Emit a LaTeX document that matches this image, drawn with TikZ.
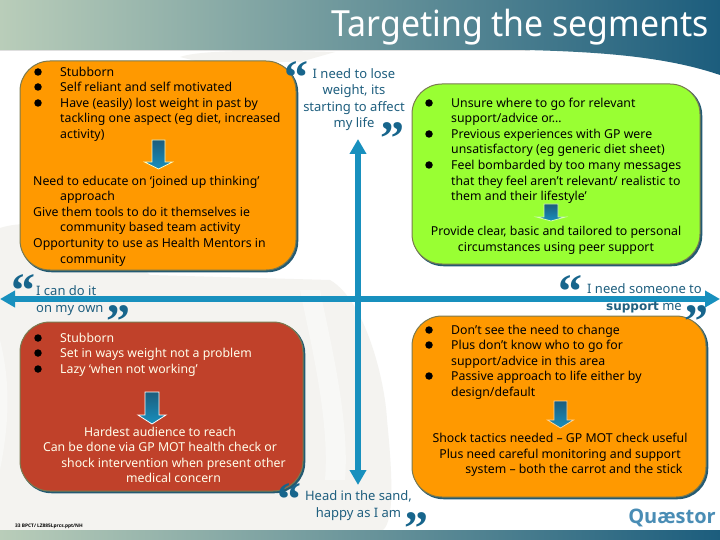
\documentclass[tikz,border=0pt]{standalone}
\usepackage{fontspec}
\setmainfont{Noto Sans}
\newfontfamily\quotefont{Liberation Serif}
\newfontfamily\titlefont{DejaVu Sans}
\newfontfamily\logofont{Open Sans}
\usetikzlibrary{arrows.meta,calc}
\definecolor{axisc}{HTML}{1890BE}
\definecolor{quotec}{HTML}{17658C}
\definecolor{orangec}{HTML}{FF9900}
\definecolor{greenc}{HTML}{99FF33}
\definecolor{redc}{HTML}{C0412A}
\definecolor{shadowc}{HTML}{235A72}
\definecolor{edgec}{HTML}{7A7A50}
\definecolor{saytext}{HTML}{1F5F7F}
\definecolor{hdl}{HTML}{B9CDB9}
\definecolor{hdr}{HTML}{1C5D7D}
\definecolor{blob}{HTML}{F4F3F0}
\definecolor{blobw}{HTML}{F8F8F6}
\definecolor{logoc}{HTML}{4A8DB5}
\tikzset{
 x=1pt,y=-1pt,
 box/.style={rounded corners=30pt,line width=1pt,preaction={draw=shadowc,fill=shadowc,line width=1.5pt,transform canvas={shift={(1.5pt,-1.5pt)}}}},
 body/.style={anchor=north west,inner sep=0pt,align=left,font=\fontsize{12.3}{15.6}\selectfont},
 bodyc/.style={anchor=north,inner sep=0pt,align=center,font=\fontsize{12.3}{15.6}\selectfont},
 say/.style={anchor=north,inner sep=0pt,align=center,text=saytext,font=\fontsize{13}{16.6}\selectfont},
 bulletdot/.style={circle,fill=black,inner sep=0pt,minimum size=7.5pt},
 qmark/.style={anchor=base,inner sep=0pt,text=quotec,font=\fontsize{48}{48}\quotefont\bfseries},
 axisline/.style={draw=axisc,line width=5.5pt,-{Triangle[length=15pt,width=16pt]}},
 blockarrow/.style={top color=hdr,bottom color=axisc,draw=#1,line width=.8pt},
}
% quote glyph in a box trimmed to the ink band
\newcommand{\qm}[1]{\raisebox{0pt}[33pt][-18pt]{#1}}
% \blockarr{colour}{cx}{half shaft}{half head}{top}{head y}{tip}
\newcommand{\blockarr}[7]{%
 \shadedraw[blockarrow=#1] (#2-#3,#5) -- (#2+#3,#5) -- (#2+#3,#6) -- (#2+#4,#6) -- (#2,#7) -- (#2-#4,#6) -- (#2-#3,#6) -- cycle;}
\begin{document}
\begin{tikzpicture}
\useasboundingbox (0,0) rectangle (720,540);
\fill[white] (0,0) rectangle (720,540);
% faint background figure
\fill[blob] (0,228) .. controls (40,215) and (110,235) .. (150,275) -- (330,280) .. controls (365,300) and (385,380) .. (387,420) .. controls (392,470) and (395,520) .. (383,530) -- (0,530) -- cycle;
\fill[blob] (180,57) .. controls (200,50) and (260,50) .. (335,52) -- (300,62) -- (200,62) -- cycle;
\fill[blobw] (0,340) .. controls (10,380) and (10,420) .. (0,470) -- cycle;
\fill[blobw] (300,290) .. controls (310,340) and (330,420) .. (325,480) -- (345,480) .. controls (350,420) and (330,340) .. (320,290) -- cycle;
% header and footer bars
\fill[gray!25] (0,50) rectangle (530,51.2);
\shade[left color=hdl,right color=hdr] (0,0) -- (720,0) -- (720,75) .. controls (670,58) and (610,52) .. (525,50) -- (0,50) -- cycle;
\shade[left color=hdl,right color=hdr] (0,530) rectangle (720,540);
\node[anchor=east,inner sep=0pt,text=white,font=\fontsize{36}{38}\selectfont] (title) at (709,27) {\scalebox{0.94}[1]{Targeting the segments}};
% axes
\coordinate (leftEnd) at (0,299);
\coordinate (rightEnd) at (720,299);
\coordinate (topEnd) at (358,139);
\coordinate (botEnd) at (358,485);
\coordinate (centre) at (358,299);
\draw[axisline] (centre) -- (leftEnd);
\draw[axisline] (centre) -- (rightEnd);
\draw[axisline] (centre) -- (topEnd);
\draw[axisline] (centre) -- (botEnd);
% boxes
\draw[box,draw=edgec,fill=orangec] (20,61) rectangle (296,270);
\draw[box,draw=edgec,fill=greenc] (412,84) rectangle (700,264);
\draw[box,draw=edgec,fill=redc] (20,322) rectangle (303,491);
\draw[box,draw=edgec,fill=orangec] (412,316) rectangle (706,497);
% top left
\node[bulletdot] (tl1) at (38,72) {};
\node[bulletdot] (tl2) at (38,87) {};
\node[bulletdot] (tl3) at (38,103) {};
\node[body] (tlA) at (60,66.5) {Stubborn\\Self reliant and self motivated\\Have (easily) lost weight in past by\\tackling one aspect (eg diet, increased\\activity)};
\blockarr{white!75!yellow}{158.5}{6.5}{14}{140}{162}{169}
\node[body] (tlB) at (33,175.5) {Need to educate on ‘joined up thinking’\\\hspace*{27pt}approach\\Give them tools to do it themselves ie\\\hspace*{27pt}community based team activity\\Opportunity to use as Health Mentors in\\\hspace*{27pt}community};
% top right
\node[bulletdot] (tr1) at (429,103) {};
\node[bulletdot] (tr2) at (429,134) {};
\node[bulletdot] (tr3) at (429,165) {};
\node[body] (trA) at (451,97.5) {Unsure where to go for relevant\\support/advice or…\\Previous experiences with GP were\\unsatisfactory (eg generic diet sheet)\\Feel bombarded by too many messages\\that they feel aren’t relevant/ realistic to\\them and their lifestyle’};
\blockarr{white!60!greenc}{551}{7}{14.5}{204}{217}{221}
\node[bodyc] (trB) at (556,226) {Provide clear, basic and tailored to personal\\circumstances using peer support};
% bottom left
\node[bulletdot] (bl1) at (38,338) {};
\node[bulletdot] (bl2) at (38,353) {};
\node[bulletdot] (bl3) at (38,369) {};
\node[body,text=white!92!yellow] (blA) at (60,332.5) {Stubborn\\Set in ways weight not a problem\\Lazy ‘when not working’};
\blockarr{white}{152}{7}{14}{392}{415}{424}
\node[bodyc,text=white!92!yellow] (blB) at (160,426.5) {Hardest audience to reach\\Can be done via GP MOT health check or\\\hspace*{27pt}shock intervention when present other\\\hspace*{27pt}medical concern};
% bottom right
\node[bulletdot] (br1) at (429,330) {};
\node[bulletdot] (br2) at (429,345) {};
\node[bulletdot] (br3) at (429,376) {};
\node[body] (brA) at (451,324.5) {Don’t see the need to change\\Plus don’t know who to go for\\support/advice in this area\\Passive approach to life either by\\design/default};
\blockarr{white!60!orangec}{560.5}{6.5}{13}{401}{420}{428}
\node[bodyc] (brB) at (560,433) {Shock tactics needed – GP MOT check useful\\Plus need careful monitoring and support\\\hspace*{28pt}system – both the carrot and the stick};
% sayings
\node[say] (s1) at (354,68) {I need to lose\\weight, its\\starting to affect\\my life};
\node[say,anchor=north west,align=left] (s2) at (36,285.5) {I can do it\\on my own};
\node[say,anchor=north east,align=right] (s3) at (702,283.5) {I need someone to\\{\titlefont\bfseries\fontsize{12}{16.6}\selectfont support} me\hspace*{20pt}};
\node[say] (s4) at (358.5,490.5) {Head in the sand,\\happy as I am};
% quote marks
\node[qmark] (q1o) at (296,93.5) {\qm{“}};
\node[qmark] (q1c) at (392,154.5) {\qm{”}};
\node[qmark] (q2o) at (23,306.5) {\qm{“}};
\node[qmark] (q2c) at (118,337.5) {\qm{”}};
\node[qmark] (q3o) at (570,307.5) {\qm{“}};
\node[qmark] (q3c) at (696,337.5) {\qm{”}};
\node[qmark] (q4o) at (289,515.5) {\qm{“}};
\node[qmark] (q4c) at (416,544.5) {\qm{”}};
% footer & logo
\node[anchor=west,inner sep=0pt,font=\fontsize{4.8}{5}\logofont\bfseries] (foot) at (15,526.5) {33 BPCT/ LZ885Lprcs.ppt/NH};
\node[anchor=east,inner sep=0pt,text=logoc,font=\fontsize{20}{24}\logofont\bfseries] (logo) at (716,518) {Quæstor};
\end{tikzpicture}
\end{document}
